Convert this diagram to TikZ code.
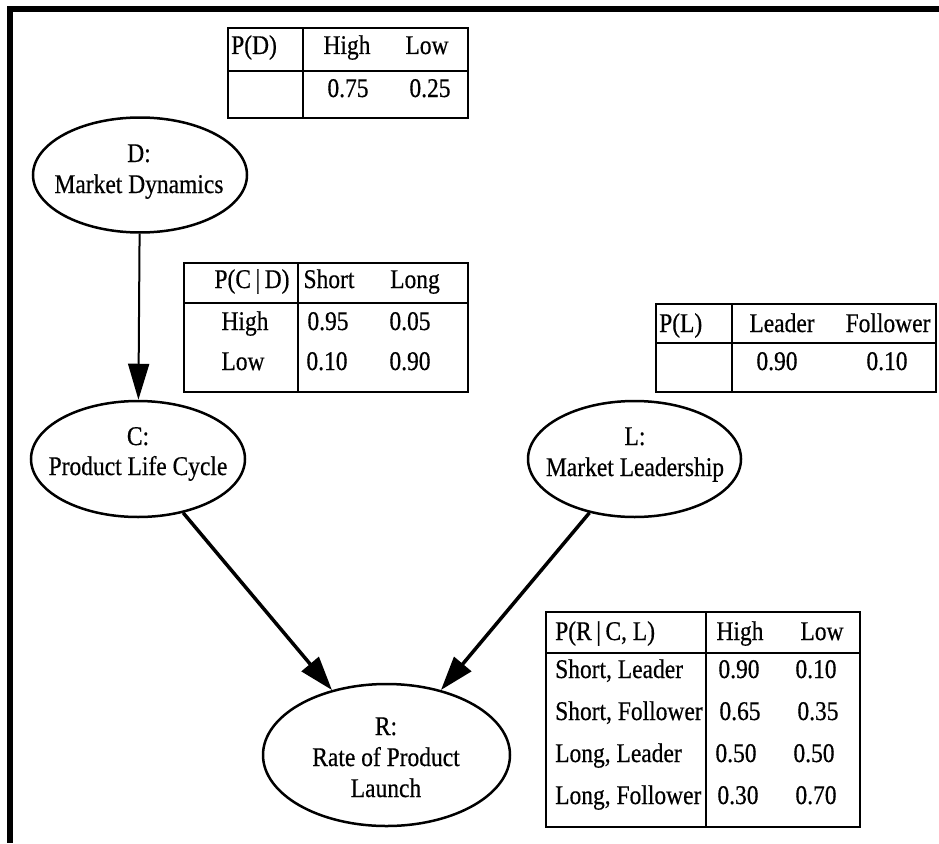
\documentclass[tikz,border=0pt]{standalone}
\usepackage{fontspec}
\setmainfont{Liberation Serif}[FakeStretch=0.87,FakeBold=0.5]
\usetikzlibrary{arrows.meta,shapes.geometric}

\begin{document}
\begin{tikzpicture}[x=1pt,y=-1pt,
  every node/.style={inner sep=0pt, font=\fontsize{27}{31}\selectfont},
  var/.style={ellipse, draw, line width=2.5pt, inner sep=0pt},
  txt/.style={anchor=base},
  ltxt/.style={anchor=base west},
  grid/.style={line width=2.5pt},
  link/.style={line width=3.5pt, -{Triangle[length=34pt,width=22pt]}},
  thinlink/.style={line width=2pt, -{Triangle[length=36pt,width=21pt]}}
]
\useasboundingbox (0,0) rectangle (939,843);

% frame on the top and left
\fill (7,6) rectangle (939,12);
\fill (7,6) rectangle (13,843);

% variables
\node[var, minimum width=214pt, minimum height=115pt] (D) at (140,175) {};
\node[var, minimum width=214pt, minimum height=116pt] (C) at (138,459) {};
\node[var, minimum width=213pt, minimum height=116pt] (L) at (634.5,459) {};
\node[var, minimum width=247pt, minimum height=142pt] (R) at (386.5,755) {};

\node[txt] (Dt1) at (139,162) {D:};
\node[txt] (Dt2) at (139,193) {Market Dynamics};
\node[txt] (Ct1) at (138,445) {C:};
\node[txt] (Ct2) at (138,475) {Product Life Cycle};
\node[txt] (Lt1) at (635,445) {L:};
\node[txt] (Lt2) at (635,476) {Market Leadership};
\node[txt] (Rt1) at (386,735) {R:};
\node[txt] (Rt2) at (386,766) {Rate of Product};
\node[txt] (Rt3) at (386,797) {Launch};

% dependencies
\draw[thinlink] (D) -- (C);
\draw[link] (C) -- (R);
\draw[link] (L) -- (R);

% table P(D)
\draw[grid] (228,28) rectangle (468,118);
\draw[grid] (228,71) -- (468,71);
\draw[grid] (303,28) -- (303,118);
\node[ltxt] (pd0) at (231,54) {P(D)};
\node[txt] (pd1) at (347,54) {High};
\node[txt] (pd2) at (427,54) {Low};
\node[txt] (pd3) at (348,97) {0.75};
\node[txt] (pd4) at (430,97) {0.25};

% table P(C | D)
\draw[grid] (184,263) rectangle (468,392);
\draw[grid] (184,303) -- (468,303);
\draw[grid] (298,263) -- (298,392);
\node[txt] (pc0) at (252,288) {P(C\,|\,D)};
\node[txt] (pc1) at (329,288) {Short};
\node[txt] (pc2) at (415,288) {Long};
\node[txt] (pc3) at (245,330) {High};
\node[txt] (pc4) at (328,330) {0.95};
\node[txt] (pc5) at (410,330) {0.05};
\node[txt] (pc6) at (243,370) {Low};
\node[txt] (pc7) at (327,370) {0.10};
\node[txt] (pc8) at (410,370) {0.90};

% table P(L)
\draw[grid] (656,304) rectangle (936,392);
\draw[grid] (656,343) -- (936,343);
\draw[grid] (732,304) -- (732,392);
\node[ltxt] (pl0) at (659,332) {P(L)};
\node[txt] (pl1) at (782,332) {Leader};
\node[txt] (pl2) at (888,332) {Follower};
\node[txt] (pl3) at (777,370) {0.90};
\node[txt] (pl4) at (887,370) {0.10};

% table P(R | C, L)
\draw[grid] (546,612) rectangle (860,827);
\draw[grid] (546,653) -- (860,653);
\draw[grid] (706,612) -- (706,827);
\node[ltxt] (pr0) at (555,640) {P(R\,|\,C, L)};
\node[txt] (pr1) at (740,640) {High};
\node[txt] (pr2) at (822,640) {Low};
\node[ltxt] (pr3) at (555,678) {Short, Leader};
\node[txt] (pr4) at (739,678) {0.90};
\node[txt] (pr5) at (816,678) {0.10};
\node[ltxt] (pr6) at (555,720) {Short, Follower};
\node[txt] (pr7) at (740,720) {0.65};
\node[txt] (pr8) at (818,720) {0.35};
\node[ltxt] (pr9) at (555,762) {Long, Leader};
\node[txt] (pr10) at (736,762) {0.50};
\node[txt] (pr11) at (814,762) {0.50};
\node[ltxt] (pr12) at (555,804) {Long, Follower};
\node[txt] (pr13) at (738,804) {0.30};
\node[txt] (pr14) at (816,804) {0.70};
\end{tikzpicture}
\end{document}
